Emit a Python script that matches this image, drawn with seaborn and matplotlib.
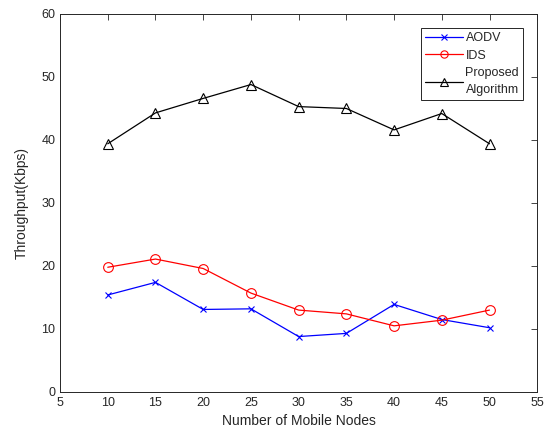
import pandas as pd
import seaborn as sns
import matplotlib.pyplot as plt
import numpy as np

# Data
nodes = [10, 15, 20, 25, 30, 35, 40, 45, 50]
aodv = [15.4, 17.4, 13.1, 13.2, 8.8, 9.3, 13.9, 11.5, 10.2]
ids = [19.8, 21.1, 19.6, 15.7, 13.0, 12.4, 10.5, 11.4, 13.0]
proposed = [39.4, 44.3, 46.6, 48.8, 45.3, 45.0, 41.6, 44.2, 39.4]

sns.set_style('white')
plt.rcParams['font.family'] = ['Liberation Sans', 'DejaVu Sans']

fig = plt.figure(figsize=(5.51, 4.37), dpi=100)
ax = fig.add_axes([0.109, 0.103, 0.866, 0.865])

series = [
    ('AODV', aodv, 'blue', 'x', 5),
    ('IDS', ids, 'red', 'o', 7),
    ('Proposed\nAlgorithm', proposed, 'black', '^', 7),
]
for name, vals, color, marker, ms in series:
    df = pd.DataFrame({'nodes': nodes, 'thr': vals})
    sns.lineplot(data=df, x='nodes', y='thr', ax=ax, color=color, marker=marker,
                 markersize=ms, markerfacecolor='none', markeredgecolor=color,
                 markeredgewidth=0.8, linewidth=0.9, label=name)

ax.set_xlim(5, 55)
ax.set_ylim(0, 60)
ax.set_xticks(np.arange(5, 56, 5))
ax.set_yticks(np.arange(0, 61, 10))
ax.set_xlabel('Number of Mobile Nodes', fontsize=10, color='#262626')
ax.set_ylabel('Throughput(Kbps)', fontsize=10, color='#262626', labelpad=9)
ax.tick_params(direction='in', top=True, right=True, length=4, width=0.6,
               labelsize=9, colors='#262626')
for s in ax.spines.values():
    s.set_color('#262626')
    s.set_linewidth(0.7)

leg = ax.legend(loc='upper right', fontsize=9, frameon=True, fancybox=False,
                framealpha=1, edgecolor='#262626', handlelength=3.0,
                borderaxespad=1.1, labelspacing=0.45, handletextpad=0.2,
                borderpad=0.35, markerscale=0.75)
leg.get_frame().set_linewidth(0.7)
for t in leg.get_texts():
    t.set_linespacing(1.5)

fig.savefig('out.png', dpi=100)
